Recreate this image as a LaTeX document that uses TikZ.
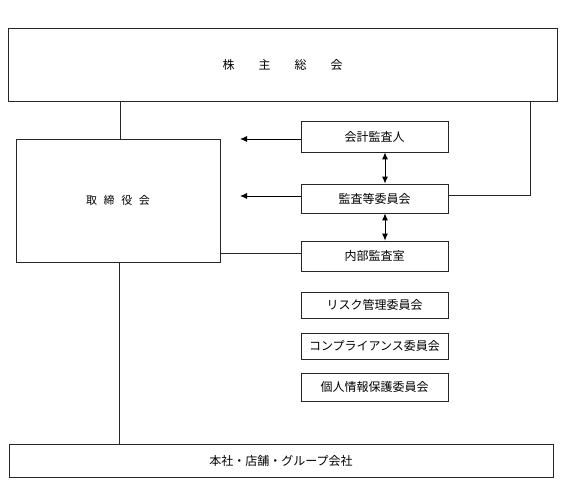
\documentclass[tikz,border=0pt]{standalone}
\usepackage{fontspec}
\newfontfamily\jp{Noto Sans CJK JP}
\usetikzlibrary{arrows.meta}
\begin{document}
\begin{tikzpicture}[x=1pt,y=-1pt,
  box/.style={draw=black!85,line width=0.8pt,inner sep=0pt,font=\jp\fontsize{12}{14}\selectfont},
  conn/.style={draw=black!85,line width=0.7pt},
  arr/.style={line width=0.9pt,-{Latex[length=7pt,width=6pt]}},
  darr/.style={line width=0.9pt,{Latex[length=7pt,width=6pt]}-{Latex[length=7pt,width=6pt]}}]
\useasboundingbox (0,0) rectangle (568,481);
\node[box,minimum width=549pt,minimum height=73pt] (gm) at (282.5,64.5) {株\hspace{2em}主\hspace{2em}総\hspace{2em}会};
\node[box,minimum width=204pt,minimum height=123pt,font=\jp\fontsize{11}{13}\selectfont] (bd) at (118,200.5) {取\hspace{0.6em}締\hspace{0.6em}役\hspace{0.6em}会};
\node[box,minimum width=147pt,minimum height=31pt] (ka) at (374.5,136.5) {会計監査人};
\node[box,minimum width=147pt,minimum height=29pt] (ac) at (374.5,198.5) {監査等委員会};
\node[box,minimum width=147pt,minimum height=30pt] (ia) at (374.5,256) {内部監査室};
\node[box,minimum width=147pt,minimum height=26pt] (rk) at (374.5,305) {リスク管理委員会};
\node[box,minimum width=147pt,minimum height=26pt] (cp) at (374.5,346) {コンプライアンス委員会};
\node[box,minimum width=147pt,minimum height=28pt] (pi) at (374.5,387) {個人情報保護委員会};
\node[box,minimum width=544pt,minimum height=33pt] (hq) at (281,460.5) {本社・店舗・グループ会社};
\coordinate (a1) at (240,139);
\coordinate (a2) at (240,196);
\draw[conn] (gm.south -| 120,0) -- (bd.north -| 120,0);
\draw[conn] (gm.south -| 530,0) |- (ac.east |- 0,195);
\draw[arr] (ka.west |- a1) -- (a1);
\draw[arr] (ac.west |- a2) -- (a2);
\draw[darr] (ka.south -| 385,0) -- (ac.north -| 385,0);
\draw[darr] (ac.south -| 385,0) -- (ia.north -| 385,0);
\draw[conn] (ia.west |- 0,253) -- (bd.east |- 0,253);
\draw[conn] (bd.south -| 119,0) -- (hq.north -| 119,0);
\end{tikzpicture}
\end{document}
